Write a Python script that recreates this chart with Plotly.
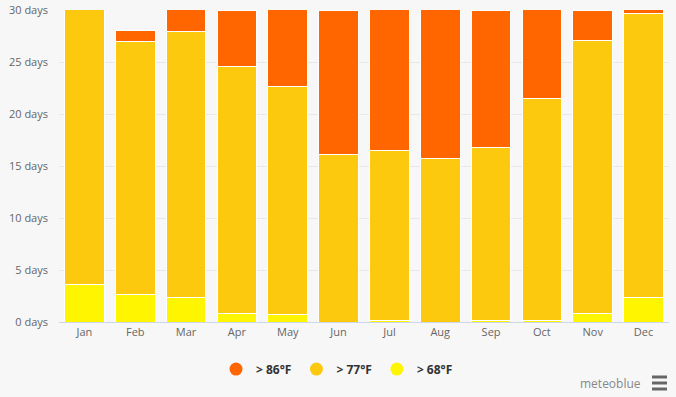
import plotly.graph_objects as go

months = ["Jan", "Feb", "Mar", "Apr", "May", "Jun", "Jul", "Aug", "Sep", "Oct", "Nov", "Dec"]
above_68 = [3.6, 2.6, 2.4, 0.8, 0.7, 0.0, 0.1, 0.0, 0.1, 0.15, 0.8, 2.4]
above_77 = [27.4, 24.4, 25.5, 23.8, 21.9, 16.1, 16.4, 15.7, 16.7, 21.3, 26.3, 27.3]
above_86 = [0.0, 1.0, 3.1, 5.4, 8.4, 13.9, 14.5, 15.3, 13.2, 9.55, 2.9, 1.3]
series_names = ["> 86°F", "> 77°F", "> 68°F"]
tick_vals = [0, 5, 10, 15, 20, 25, 30]
tick_text = [f"{v} days" for v in tick_vals]

c86 = "#ff6600"
c77 = "#fdc90f"
c68 = "#fff500"

fig = go.Figure()
for vals, col in [(above_68, c68), (above_77, c77), (above_86, c86)]:
    fig.add_trace(go.Bar(x=months, y=vals, marker=dict(color=col, line=dict(color="#ffffff", width=1)),
                         showlegend=False))
for name, col in zip(series_names, [c86, c77, c68]):
    fig.add_trace(go.Scatter(x=[None], y=[None], mode="markers", name=name,
                             marker=dict(symbol="circle", size=13, color=col)))

fig.update_layout(
    width=676, height=397,
    barmode="stack", bargap=0.22,
    paper_bgcolor="#f7f7f7", plot_bgcolor="#f7f7f7",
    margin=dict(l=59, r=7, t=10, b=75),
    font=dict(family="Open Sans, DejaVu Sans, sans-serif", size=11, color="#666666"),
    xaxis=dict(showgrid=False, showline=True, linecolor="#ccd6eb", linewidth=1, automargin=False,
               tickfont=dict(size=11, color="#666666"), ticks="", fixedrange=True),
    yaxis=dict(range=[0, 30], tickmode="array", tickvals=tick_vals, ticktext=tick_text, showgrid=True,
               gridcolor="#e8e8e8", gridwidth=1, zeroline=False, ticks="", automargin=False,
               ticklabelstandoff=10, tickfont=dict(size=11, color="#666666")),
    legend=dict(orientation="h", x=(337 - 59) / 610, xanchor="center", y=-0.151, yanchor="middle",
                traceorder="normal",
                font=dict(size=12, color="#333333", family="Open Sans, DejaVu Sans, sans-serif", weight="bold"),
                bgcolor="rgba(0,0,0,0)", itemwidth=30),
    showlegend=True,
)

fig.add_annotation(xref="paper", yref="paper", x=(643 - 59) / 610, y=-(383 - 322) / 312,
                   xanchor="right", yanchor="middle", text="meteoblue", showarrow=False,
                   font=dict(size=12, color="#888888"))
for yy in [377, 383, 389]:
    fig.add_shape(type="line", xref="paper", yref="paper",
                  x0=(652 - 59) / 610, x1=(667 - 59) / 610,
                  y0=-(yy - 322) / 312, y1=-(yy - 322) / 312,
                  line=dict(color="#666666", width=3))

fig.write_html("out.html", config={"displayModeBar": False},
               post_script="document.body.style.margin='0';")
